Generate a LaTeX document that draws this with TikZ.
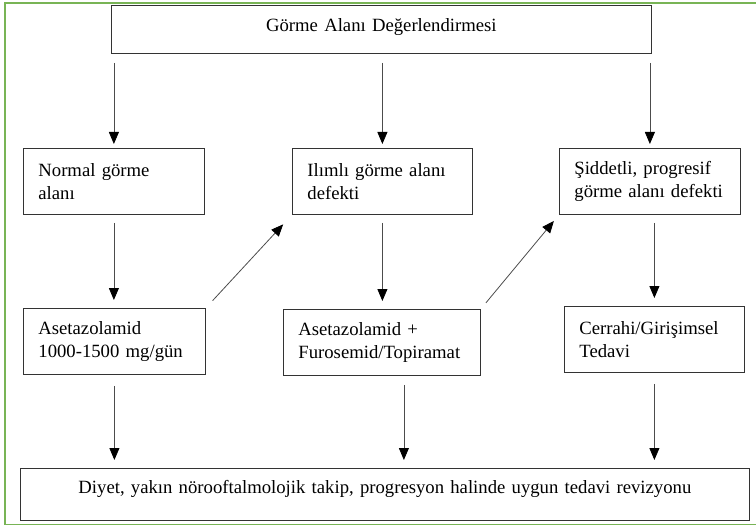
\documentclass[tikz,border=0pt]{standalone}
\usepackage{fontspec}
\setmainfont{Liberation Serif}
\usetikzlibrary{calc, arrows.meta}

\definecolor{framegreen}{RGB}{120,180,85}

\tikzset{
  box/.style={draw=black!80, line width=0.8pt, anchor=north west, inner xsep=15pt,
    inner ysep=0pt, minimum height=66pt, align=left, font=\fontsize{18.7}{23}\selectfont},
  arr/.style={draw=black!70, line width=0.8pt, -{Triangle[length=12pt,width=10pt,color=black]}},
}

\begin{document}
\begin{tikzpicture}[x=1pt, y=-1pt]
  \useasboundingbox (0,0) rectangle (756,527);
  \draw[framegreen, line width=1.4pt] (762,3) -- (5,3) -- (5,524.5) -- (762,524.5); % outer frame, right side cut off

  \node[box, minimum width=540pt, minimum height=48pt, text width=510pt, align=center,
    text height=13pt, text depth=9pt] (eval) at (111,5) {Görme Alanı Değerlendirmesi};

  % first row
  \node[box, minimum width=181pt, text width=151pt] (normal) at (23,148) {Normal görme\\alanı};
  \node[box, minimum width=180pt, text width=150pt] (mild) at (292,148) {Ilımlı görme alanı\\defekti};
  \node[box, minimum width=181pt, text width=151pt] (severe) at (559,148) {Şiddetli, progresif\\görme alanı defekti};

  % second row
  \node[box, minimum width=182pt, text width=152pt] (aceta) at (23,308) {Asetazolamid\\1000-1500 mg/gün};
  \node[box, minimum width=197pt, text width=167pt] (combo) at (283,309) {Asetazolamid +\\Furosemid/Topiramat};
  \node[box, minimum width=180pt, text width=150pt] (surgery) at (564,306) {Cerrahi/Girişimsel\\Tedavi};

  \node[box, minimum width=729pt, minimum height=52pt, text width=699pt, align=center,
    text height=12pt, text depth=14pt] (diet) at (20,468)
    {Diyet, yakın nörooftalmolojik takip, progresyon halinde uygun tedavi revizyonu};

  % evaluation to first row
  \draw[arr, shorten <=9pt, shorten >=4pt] (normal.north |- eval.south) -- (normal.north);
  \draw[arr, shorten <=9pt, shorten >=4pt] (mild.north |- eval.south) -- (mild.north);
  \draw[arr, shorten <=9pt, shorten >=4pt] (severe.north |- eval.south) -- (severe.north);

  % first row to second row
  \draw[arr, shorten <=8pt, shorten >=8pt] (normal.south) -- (normal.south |- aceta.north);
  \draw[arr, shorten <=8pt, shorten >=8pt] (mild.south) -- (mild.south |- combo.north);
  \draw[arr, shorten <=8pt, shorten >=8pt] (surgery.north |- severe.south) -- (surgery.north);

  % step up when treatment fails
  \draw[arr, shorten <=10pt, shorten >=13pt] (aceta.north east) -- (mild.south west);
  \draw[arr, shorten <=8pt, shorten >=8pt] (combo.north east) -- (severe.south west);

  % second row to follow-up
  \coordinate (combo out) at ($ (combo.south)+(22,0) $); % arrow sits right of centre
  \draw[arr, shorten <=11pt, shorten >=8pt] (aceta.south) -- (aceta.south |- diet.north);
  \draw[arr, shorten <=9pt, shorten >=8pt] (combo out) -- (combo out |- diet.north);
  \draw[arr, shorten <=11pt, shorten >=8pt] (surgery.south) -- (surgery.south |- diet.north);
\end{tikzpicture}
\end{document}
